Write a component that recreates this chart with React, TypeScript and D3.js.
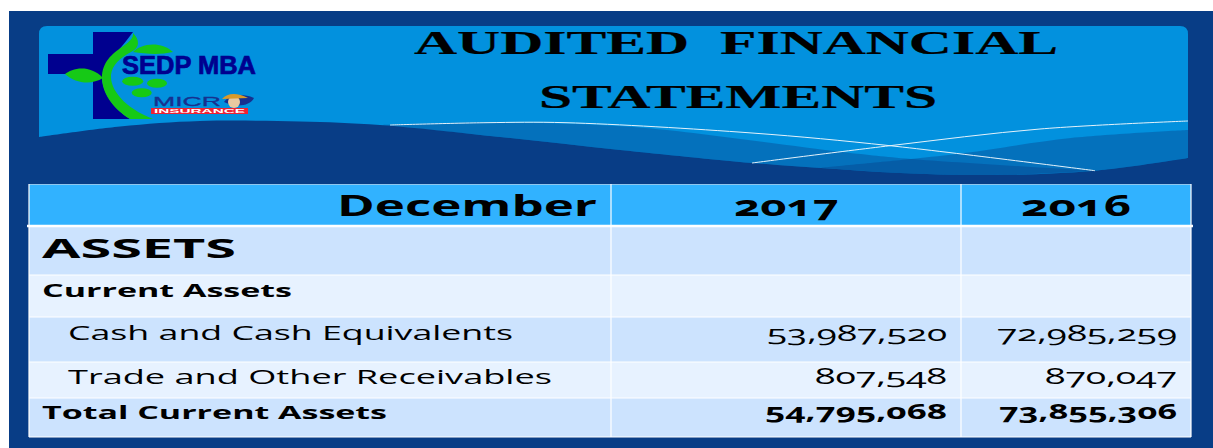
import * as d3 from "d3";

// table content
const years = ["December", "2017", "2016"];
const rowLabels = ["ASSETS", "Current Assets", "Cash and Cash Equivalents", "Trade and Other Receivables", "Total Current Assets"];
const values2017 = [null, null, 53987520, 807548, 54795068];
const values2016 = [null, null, 72985259, 870047, 73855306];
const titleLines = ["AUDITED FINANCIAL", "STATEMENTS"];

// layout
const W = 1213;
const H = 448;
const NAVY = "#083d86";
const PANEL = "#0291de";
const colEdges = [29, 611, 961, 1191];
const rowEdges = [184, 226, 275, 317, 362, 398, 437];
const rowFill = ["#31b2ff", "#cce3fe", "#e7f2ff", "#cce3fe", "#e7f2ff", "#cce3fe"];

const rowStyle = [
  { x: 42, w: 194, base: 258, size: 27.5, weight: 700 },
  { x: 42, w: 250, base: 297, size: 18, weight: 700 },
  { x: 68, w: 445, base: 340, size: 20, weight: 400 },
  { x: 68, w: 484, base: 384, size: 20, weight: 400 },
  { x: 42, w: 345, base: 419, size: 18, weight: 700 },
];
const numBase = [0, 0, 341, 384, 419];
const numWidth2017 = [0, 0, 180, 132, 182];
const numWidth2016 = [0, 0, 180, 132, 178];

const fmt = d3.format(",");
const sans = "'Open Sans', 'DejaVu Sans', sans-serif";

const curve = d3.line().curve(d3.curveCatmullRom.alpha(0.5));

const lowerEdge: [number, number][] = [[39, 137], [120, 126.5], [200, 121], [300, 121.5], [380, 125], [500, 137], [620, 150], [752, 163], [821, 168], [900, 173], [991, 175], [1095, 170.7], [1188, 158]];
const band1Top: [number, number][] = [[380, 125], [470, 122.5], [540, 123], [645, 128], [842, 152], [911, 159], [1095, 170.7]];
const band1Bottom: [number, number][] = [[1095, 170.7], [991, 175], [900, 173], [821, 168], [752, 163], [620, 150], [500, 137], [380, 125]];
const band2Top: [number, number][] = [[1188, 130], [1071, 138], [965, 153], [911, 159], [821, 167.7]];
const band2Bottom: [number, number][] = [[821, 167.7], [900, 173], [991, 175], [1095, 170.7], [1188, 158]];
const whiteLine1: [number, number][] = [[390, 125], [486, 122.7], [566, 122.7], [752, 133], [890, 145.7], [1095, 170.7]];
const whiteLine2: [number, number][] = [[752, 163], [890, 145.7], [1040, 129], [1188, 121]];

function Logo() {
  const green = "#16c916";
  const blue = "#00008f";
  const logoFont = "'Liberation Sans', sans-serif";
  return (
    <g>
      <path d="M93,32H133C120,50 105,63 102,80C104,95 115,110 130,119H93V74H48V54H93Z" fill={blue} />
      {/* vine */}
      <path d="M133,33C140,40 140,48 131,52C120,58 112,65 111,75C110,90 125,108 153,119H130C112,108 102,92 102,78C102,62 112,54 122,47C129,42 134,38 133,33Z" fill={green} />
      <path d="M65,74C72,68 90,64 103,78C92,85 76,84 65,74Z" fill={green} />
      <path d="M133,52C140,44 160,40 173,52C160,55 146,54 133,52Z" fill={green} />
      <ellipse cx={132.7} cy={81.3} rx={10.5} ry={4.5} fill={green} />
      <ellipse cx={157} cy={83.3} rx={10} ry={4.5} fill={green} />
      <ellipse cx={141.7} cy={92.7} rx={10} ry={4.5} fill={green} />
      <text x={122} y={74} fontFamily={logoFont} fontWeight={700} fontSize={25.5} textLength={134} lengthAdjust="spacingAndGlyphs" stroke={blue} strokeWidth={0.7} fill={blue}>SEDP MBA</text>
      <text x={153} y={105.5} fontFamily={logoFont} fontSize={13.5} textLength={68} lengthAdjust="spacingAndGlyphs" stroke="#16308f" strokeWidth={0.3} fill="#16308f">MICR</text>
      <path d="M224,102C228,96 240,92 254,98C250,106 236,108 224,102Z" fill="#16308f" />
      <circle cx={234} cy={102} r={6} fill="#e8c9a0" />
      <path d="M222,99C228,92 238,93 248,98Z" fill="#d99a2b" />
      <rect x={151} y={108} width={97} height={6} fill="#ee2233" />
      <text x={154} y={113.4} fontFamily={logoFont} fontWeight={700} fontSize={5.6} textLength={91} lengthAdjust="spacingAndGlyphs" fill="#fff">INSURANCE</text>
    </g>
  );
}

export default function App() {
  const panelD = `${curve(lowerEdge)}L1188,34Q1188,26 1180,26L47,26Q39,26 39,34Z`;
  const headerBase = 216;
  const headerStyle = [
    { x: 337, w: 260 },
    { x: 734, w: 105 },
    { x: 1021, w: 110 },
  ];

  return (
    <svg width={W} height={H} style={{ position: "absolute", left: 0, top: 0, display: "block" }}>
      <rect width={W} height={H} fill="#fff" />
      <rect x={9} y={11} width={W - 9} height={H - 11} fill={NAVY} />

      <path d={panelD} fill={PANEL} />
      <path d={`${curve(band1Top)}${curve(band1Bottom)!.replace(/^M/, "L")}Z`} fill={NAVY} opacity={0.38} />
      <path d={`${curve(band2Top)}${curve(band2Bottom)!.replace(/^M/, "L")}Z`} fill={NAVY} opacity={0.38} />
      <path d={curve(whiteLine1)!} fill="none" stroke="#e4f2fb" strokeWidth={1} />
      <path d={curve(whiteLine2)!} fill="none" stroke="#e4f2fb" strokeWidth={1} />

      <Logo />

      {titleLines.map((t, i) => (
        <text key={t} x={i === 0 ? 414 : 539} y={i === 0 ? 54 : 107.5} fontFamily="'Liberation Serif', serif" fontWeight={700} fontSize={33.5}
          textLength={i === 0 ? 644 : 398} lengthAdjust="spacingAndGlyphs" wordSpacing={9} fill="#000" stroke="#000" strokeWidth={0.2}>{t}</text>
      ))}

      {/* table rows */}
      {rowFill.map((f, i) => (
        <rect key={i} x={colEdges[0]} y={rowEdges[i]} width={colEdges[3] - colEdges[0]} height={rowEdges[i + 1] - rowEdges[i]} fill={f} />
      ))}
      <line x1={colEdges[0]} x2={colEdges[3]} y1={184.5} y2={184.5} stroke="#8ec6ee" strokeWidth={1} />
      {rowEdges.slice(1).map((y, i) => (
        <line key={y} x1={colEdges[0] - (i === 0 ? 2 : 0)} x2={colEdges[3] + (i === 0 ? 2 : 0)} y1={y} y2={y} stroke="#fff" strokeWidth={i === 0 ? 2.5 : 1} />
      ))}
      {colEdges.map((x) => (
        <line key={x} x1={x} x2={x} y1={rowEdges[0]} y2={rowEdges[6]} stroke="#fff" strokeWidth={1.2} />
      ))}

      {/* header */}
      {years.map((t, i) => (
        <text key={t} x={headerStyle[i].x} y={headerBase} fontFamily={sans} fontWeight={700} fontSize={28.5} textLength={headerStyle[i].w}
          lengthAdjust="spacingAndGlyphs" style={{ fontFeatureSettings: "'onum'" }} fill="#000">{t}</text>
      ))}

      {/* body */}
      {rowLabels.map((t, i) => (
        <text key={t} x={rowStyle[i].x} y={rowStyle[i].base} fontFamily={sans} fontWeight={rowStyle[i].weight} fontSize={rowStyle[i].size}
          textLength={rowStyle[i].w} lengthAdjust="spacingAndGlyphs" fill="#000">{t}</text>
      ))}
      {values2017.map((v, i) => v !== null && (
        <text key={`a${i}`} x={947 - numWidth2017[i]} y={numBase[i]} fontFamily={sans} fontWeight={rowStyle[i].weight} fontSize={21} textLength={numWidth2017[i]}
          lengthAdjust="spacingAndGlyphs" style={{ fontFeatureSettings: "'onum'" }} fill="#000">{fmt(v)}</text>
      ))}
      {values2016.map((v, i) => v !== null && (
        <text key={`b${i}`} x={1177 - numWidth2016[i]} y={numBase[i]} fontFamily={sans} fontWeight={rowStyle[i].weight} fontSize={21} textLength={numWidth2016[i]}
          lengthAdjust="spacingAndGlyphs" style={{ fontFeatureSettings: "'onum'" }} fill="#000">{fmt(v)}</text>
      ))}
    </svg>
  );
}
